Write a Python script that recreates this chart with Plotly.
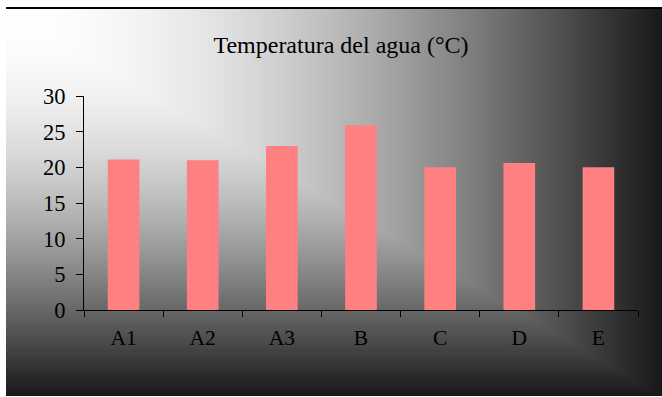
import base64, struct, zlib
import numpy as np
import plotly.graph_objects as go

categories = ["A1", "A2", "A3", "B", "C", "D", "E"]
temperatures = [21.1, 21.0, 23.0, 25.9, 20.0, 20.6, 20.0]
y_ticks = [0, 5, 10, 15, 20, 25, 30]
title_text = "Temperatura del agua (°C)"

W, H = 662, 397
ML, MR, MT, MB = 84, 24, 96, 87
PW, PH = W - ML - MR, H - MT - MB

# background gradient image (full canvas)
img = np.full((H, W), 255, dtype=np.float64)
gx0, gx1, gy0, gy1 = 6, 662, 9, 396
yy, xx = np.mgrid[gy0:gy1, gx0:gx1]
u = (xx - gx0) / (gx1 - gx0)
v = (yy - gy0) / (gy1 - gy0)
t = np.maximum(u, v)
img[gy0:gy1, gx0:gx1] = 24 + 231 * np.cos(np.pi / 2 * t)
img[7:9, gx0:gx1] = 0
img = np.clip(img, 0, 255).astype(np.uint8)


def png_bytes(a):
    h, w = a.shape
    raw = b"".join(b"\x00" + a[r].tobytes() for r in range(h))

    def chunk(tag, data):
        c = struct.pack(">I", len(data)) + tag + data
        return c + struct.pack(">I", zlib.crc32(tag + data) & 0xFFFFFFFF)

    return (b"\x89PNG\r\n\x1a\n" + chunk(b"IHDR", struct.pack(">IIBBBBB", w, h, 8, 0, 0, 0, 0))
            + chunk(b"IDAT", zlib.compress(raw, 9)) + chunk(b"IEND", b""))


src = "data:image/png;base64," + base64.b64encode(png_bytes(img)).decode()

fig = go.Figure()
fig.add_trace(go.Bar(x=categories, y=temperatures, marker=dict(color="#FF8080", line=dict(width=0))))

font = "Liberation Serif, Times New Roman, serif"
fig.update_layout(
    width=W, height=H, autosize=False,
    margin=dict(l=ML, r=MR, t=MT, b=MB),
    paper_bgcolor="white", plot_bgcolor="rgba(0,0,0,0)",
    font=dict(family=font, size=21, color="black"),
    bargap=0.6, showlegend=False,
    title=dict(text=title_text, x=341 / W, xref="container", xanchor="center",
               y=1 - 45 / H, yref="container", yanchor="middle",
               font=dict(family=font, size=24, color="black")),
    images=[dict(source=src, xref="paper", yref="paper",
                 x=-ML / PW, y=1 + MT / PH, sizex=W / PW, sizey=H / PH,
                 xanchor="left", yanchor="top", sizing="stretch", layer="below")],
)
fig.update_xaxes(type="category", tickson="boundaries", ticks="outside", ticklen=6,
                 tickcolor="black", showline=True, linecolor="black", linewidth=1,
                 showgrid=False, ticklabelstandoff=8, tickfont=dict(size=21.5))
fig.update_yaxes(range=[0, 30], tickvals=y_ticks, ticks="outside", ticklen=7,
                 tickcolor="black", showline=True, linecolor="black", linewidth=1,
                 showgrid=False, zeroline=False, ticklabelstandoff=6, tickfont=dict(size=22.5))

fig.write_html("out.html")
